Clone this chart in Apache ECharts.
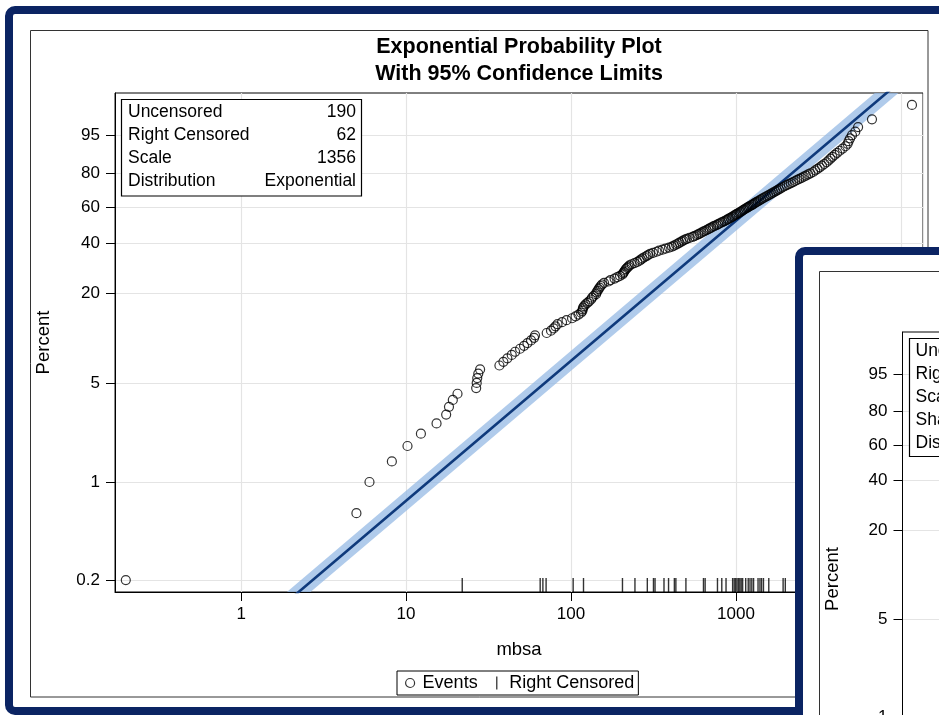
<!DOCTYPE html>
<html>
<head>
<meta charset="utf-8">
<title>Exponential Probability Plot</title>
<script src="https://cdn.jsdelivr.net/npm/echarts@6/dist/echarts.min.js"></script>
<style>
  html, body { margin: 0; padding: 0; background: #fff; }
  #main { width: 939px; height: 715px; }
</style>
</head>
<body>
<div id="main"></div>
<script>
// failure times (mbsa) of the uncensored units and their plotting positions (percent)
const eventTime = [
  0.2, 5, 6, 8.2, 10.2, 12.3, 15.3, 17.5, 18.2, 19.2, 20.5,
  26.6, 26.8, 27.0, 27.4, 28.1,
  36.8, 38.9, 41.1, 43.7, 45.8, 49.1, 51.9, 54.4, 57.2, 59.7, 60.5,
  71.2, 75.6, 78.4, 80.5, 82.8, 88.2, 93.9, 101.4, 106.5, 111, 115, 117, 117.6, 118.2, 120, 122.4, 125.6, 128.6, 132.2, 134.1, 137.3, 141.8,
  142.6, 144.8, 146.8, 148.9, 151.2, 154.2, 158.5, 168.8, 173.5, 183.5, 190.8, 198, 204.9, 207.2, 209.6, 211.9, 214.8, 218.5, 222.5, 226.3,
  233, 242.6, 252.2, 260.1, 264.9, 271.3, 278.2, 286.9, 292.9, 301.2, 314.1, 329.8, 341.5, 358.5, 373.9, 392.6, 409.4, 421, 433, 445.2, 454.6, 467.4,
  477.4, 490.9, 503.3, 521.9, 545.8, 558.9, 574.7, 589.3, 602.6, 617.9, 633.6, 646.1, 662.5, 679.4, 692.8, 707.5, 725.5, 739.8, 762.8, 779,
  794.3, 812.3, 833, 851.8, 873.4, 890.7, 905.7, 924.9, 944.5, 959, 978, 998.6, 1013, 1034, 1053, 1071, 1091, 1110, 1126, 1150, 1171, 1191,
  1212, 1238, 1259, 1280, 1304, 1329,
  1355, 1388, 1419, 1453, 1490, 1530, 1570, 1610, 1648, 1688, 1733, 1775, 1820, 1866, 1916, 1970, 2029, 2089, 2151, 2216, 2281, 2349,
  2422, 2498, 2576, 2656, 2740, 2825,
  2934, 3020, 3118, 3217, 3321, 3429, 3545, 3640, 3738, 3838, 3964, 4100, 4257, 4427, 4610, 4747, 4814, 4915, 5047, 5285, 5496, 6672, 11660
];
const eventPct = [
  0.2, 0.6, 1.0, 1.4, 1.8, 2.2, 2.6, 3.0, 3.4, 3.8, 4.2,
  4.6, 5.0, 5.4, 5.8, 6.2,
  6.6, 7.0, 7.4, 7.8, 8.2, 8.6, 9.0, 9.4, 9.8, 10.2, 10.6,
  11.0, 11.4, 11.8, 12.2, 12.6, 13.0, 13.4, 13.8, 14.2, 14.6, 15.0, 15.4, 15.8, 16.2, 16.6, 17.0, 17.4, 17.8, 18.3, 18.8, 19.3, 19.8,
  20.3, 20.8, 21.3, 21.8, 22.3, 22.8, 23.3, 23.8, 24.3, 24.8, 25.3, 25.8, 26.3, 26.8, 27.3, 27.8, 28.3, 28.8, 29.3, 29.8,
  30.3, 30.8, 31.3, 31.8, 32.3, 32.8, 33.3, 33.8, 34.3, 34.8, 35.3, 35.8, 36.3, 36.8, 37.3, 37.8, 38.3, 38.8, 39.3, 39.8, 40.3, 40.8,
  41.3, 41.8, 42.2, 42.7, 43.2, 43.6, 44.1, 44.6, 45.0, 45.5, 46.0, 46.4, 46.9, 47.4, 47.8, 48.3, 48.8, 49.2, 49.7, 50.2,
  50.6, 51.1, 51.6, 52.0, 52.5, 53.0, 53.4, 53.9, 54.4, 54.8, 55.3, 55.8, 56.2, 56.7, 57.2, 57.6, 58.1, 58.6, 59.0, 59.5, 60.0, 60.4,
  60.9, 61.4, 61.8, 62.3, 62.8, 63.3,
  63.8, 64.4, 65.0, 65.6, 66.2, 66.8, 67.4, 68.0, 68.6, 69.2, 69.8, 70.4, 71.0, 71.6, 72.2, 72.8, 73.4, 74.0, 74.6, 75.2, 75.8, 76.4,
  77.0, 77.6, 78.2, 78.8, 79.4, 80.0,
  80.7, 81.5, 82.3, 83.1, 83.9, 84.7, 85.5, 86.3, 87.1, 87.9, 88.7, 89.5, 90.3, 91.1, 91.9, 92.7, 93.5, 94.3, 95.1, 95.9, 96.8, 98.0, 99.3
];
// right censored times (rug marks along the x axis)
const censorTime = [
  21.9, 65, 67.5, 70.6, 103, 119, 205, 244, 290, 316, 323, 366, 390, 423, 432, 497, 635, 650, 772, 820, 870,
  954, 975, 994, 1014, 1035, 1055, 1075, 1097, 1145, 1186, 1216, 1247, 1278, 1360, 1397, 1429, 1467, 1580, 1930, 1990,
  2600, 2950, 3300, 3650, 4050, 4400, 4900, 5400, 5900, 6300, 6900, 7300, 7700, 8100, 8600, 9000, 9500, 9900, 10400, 10900, 11900
];
// fitted exponential line (scale 1356) and its 95% limits, read at a few times
const fitTime = [1.5, 10, 100, 1000, 12000];
const fitPct = [0.1106, 0.7348, 7.111, 52.17, 99.9857];
const ciLowerPct = [0.0937, 0.623, 6.059, 46.47, 99.9447];
const ciUpperPct = [0.1303, 0.8658, 8.331, 58.09, 99.99707];

const yTicks = [0.2, 1, 5, 20, 40, 60, 80, 95];
const yBottomPct = 0.1645, yTopPct = 99.76;
const xMin = 0.172, xMax = 13600;

const statLabels = ['Uncensored', 'Right Censored', 'Scale', 'Distribution'];
const statValues = ['190', '62', '1356', 'Exponential'];
const insetStatLabels = ['Uncensored', 'Right Censored', 'Scale', 'Shape', 'Distribution'];

const FONT = "'Liberation Sans', Arial, sans-serif";
const NAVY = '#0b2463';

// exponential probability scale: log10(-ln(1-p))
const toY = p => Math.log10(-Math.log(1 - p / 100));
const yMin = toY(yBottomPct), yMax = toY(yTopPct);
const yTickVals = yTicks.map(toY);
const yLabel = v => {
  const i = yTickVals.findIndex(u => Math.abs(u - v) < 1e-9);
  return i < 0 ? '' : String(yTicks[i]);
};

const bandData = fitTime.map((t, i) => [t, toY(ciLowerPct[i]), toY(ciUpperPct[i])]);

function yAxisOpt(gridIndex, extra) {
  return Object.assign({
    type: 'value',
    gridIndex: gridIndex,
    min: yMin,
    max: yMax,
    name: 'Percent',
    nameLocation: 'middle',
    nameRotate: 90,
    nameTextStyle: { fontFamily: FONT, fontSize: 18.5, color: '#000' },
    axisLine: { show: true, onZero: false, lineStyle: { color: '#000', width: 1 } },
    axisTick: { show: true, length: 9, customValues: yTickVals, lineStyle: { color: '#000' } },
    axisLabel: {
      customValues: yTickVals, formatter: yLabel, margin: 15,
      fontFamily: FONT, fontSize: 17, color: '#000'
    },
    splitLine: { show: true, lineStyle: { color: '#e4e4e4', width: 1.2 } }
  }, extra);
}

const statBox = [
  { type: 'rect', z: 10, shape: { x: 121.5, y: 99.5, width: 240, height: 96.5 },
    style: { fill: '#fff', stroke: '#000', lineWidth: 1.2 } }
];
statLabels.forEach((s, i) => {
  statBox.push({ type: 'text', z: 11, x: 128, y: 112 + i * 23,
    style: { text: s, fontFamily: FONT, fontSize: 17.5, fill: '#000', verticalAlign: 'middle' } });
  statBox.push({ type: 'text', z: 11, x: 356, y: 112 + i * 23,
    style: { text: statValues[i], fontFamily: FONT, fontSize: 17.5, fill: '#000', align: 'right', verticalAlign: 'middle' } });
});

const insetBox = [
  { type: 'rect', z: 50, shape: { x: 799, y: 251, width: 400, height: 600, r: 6 },
    style: { fill: '#fff', stroke: NAVY, lineWidth: 8 } },
  { type: 'rect', z: 51, shape: { x: 819.5, y: 271.5, width: 300, height: 600 },
    style: { fill: 'none', stroke: '#333', lineWidth: 1 } },
  { type: 'rect', z: 70, shape: { x: 909.5, y: 338.5, width: 240, height: 118 },
    style: { fill: '#fff', stroke: '#000', lineWidth: 1.2 } }
];
insetStatLabels.forEach((s, i) => {
  insetBox.push({ type: 'text', z: 71, x: 915.5, y: 351 + i * 23,
    style: { text: s, fontFamily: FONT, fontSize: 17.5, fill: '#000', verticalAlign: 'middle' } });
});

const chart = echarts.init(document.getElementById('main'));
chart.setOption({
  animation: false,
  backgroundColor: '#fff',
  title: {
    text: 'Exponential Probability Plot\nWith 95% Confidence Limits',
    left: 514,
    top: 29,
    textAlign: 'center',
    textStyle: { fontFamily: FONT, fontSize: 21.5, fontWeight: 'bold', color: '#000', lineHeight: 27 }
  },
  legend: {
    data: [
      { name: 'Events', icon: 'circle', itemStyle: { borderWidth: 1.2 } },
      { name: 'Right Censored', icon: 'path://M0,0H1V10H0Z', itemStyle: { borderWidth: 0 } }
    ],
    left: 397,
    top: 671,
    padding: [3, 4, 3, 8],
    itemGap: 18.5,
    itemWidth: 9,
    itemHeight: 13,
    borderColor: '#000',
    borderWidth: 1,
    selectedMode: false,
    textStyle: { fontFamily: FONT, fontSize: 18, color: '#000', padding: [0, 0, 0, 3] }
  },
  grid: [
    { left: 115, top: 93, width: 808, height: 499, show: true, borderColor: '#000', borderWidth: 1,
      outerBoundsMode: 'none' },
    { left: 902.5, top: 332, width: 300, height: 494, show: true, borderColor: '#000', borderWidth: 1, z: 60,
      outerBoundsMode: 'none' }
  ],
  xAxis: [
    {
      type: 'log', logBase: 10, gridIndex: 0, min: xMin, max: xMax,
      name: 'mbsa', nameLocation: 'middle', nameGap: 48,
      nameTextStyle: { fontFamily: FONT, fontSize: 18.5, color: '#000' },
      axisLine: { show: true, onZero: false, lineStyle: { color: '#000', width: 1 } },
      axisTick: { show: true, length: 9, lineStyle: { color: '#000' } },
      axisLabel: {
        showMinLabel: false, showMaxLabel: false, margin: 14,
        fontFamily: FONT, fontSize: 17, color: '#000',
        formatter: v => String(+(+v).toPrecision(6))
      },
      splitLine: { show: true, lineStyle: { color: '#e4e4e4', width: 1.2 } },
      minorTick: { show: false }
    },
    { type: 'log', logBase: 10, gridIndex: 1, min: xMin, max: xMax, show: false, axisLine: { onZero: false } }
  ],
  yAxis: [
    yAxisOpt(0, { nameGap: 62 }),
    yAxisOpt(1, { nameGap: 60, z: 60 })
  ],
  graphic: {
    elements: [
      { type: 'rect', shape: { x: 9, y: 10, width: 1000, height: 701, r: 6 },
        style: { fill: 'none', stroke: NAVY, lineWidth: 8 } },
      { type: 'rect', shape: { x: 30.5, y: 30.5, width: 897.5, height: 666.5 },
        style: { fill: 'none', stroke: '#333', lineWidth: 1 } }
    ].concat(statBox, insetBox)
  },
  series: [
    {
      type: 'custom', name: '95% CI', xAxisIndex: 0, yAxisIndex: 0, z: 1, silent: true,
      data: bandData,
      encode: { x: 0, y: [1, 2] },
      renderItem(params, api) {
        if (params.dataIndex !== 0) return null;
        const upper = bandData.map(d => api.coord([d[0], d[2]]));
        const lower = bandData.map(d => api.coord([d[0], d[1]])).reverse();
        const cs = params.coordSys;
        return {
          type: 'polygon',
          shape: { points: upper.concat(lower) },
          style: { fill: 'rgba(150, 185, 228, 0.75)' },
          clipPath: { type: 'rect', shape: { x: cs.x, y: cs.y, width: cs.width, height: cs.height } }
        };
      }
    },
    {
      type: 'line', name: 'Fit', xAxisIndex: 0, yAxisIndex: 0, z: 2, silent: true,
      data: fitTime.map((t, i) => [t, toY(fitPct[i])]),
      showSymbol: false, symbol: 'none',
      lineStyle: { color: '#0f3a7c', width: 2.6 }
    },
    {
      type: 'scatter', name: 'Events', xAxisIndex: 0, yAxisIndex: 0, z: 3, silent: true,
      data: eventTime.map((t, i) => [t, toY(eventPct[i])]),
      symbol: 'circle', symbolSize: 9,
      itemStyle: { color: 'rgba(0,0,0,0)', borderColor: '#000', borderWidth: 1.2 }
    },
    {
      type: 'scatter', name: 'Right Censored', xAxisIndex: 0, yAxisIndex: 0, z: 3, silent: true, clip: false,
      data: censorTime.map(t => [t, yMin]),
      symbol: 'rect', symbolSize: [1.4, 14], symbolOffset: [0, -7],
      itemStyle: { color: '#000' }
    }
  ]
});
</script>
</body>
</html>
